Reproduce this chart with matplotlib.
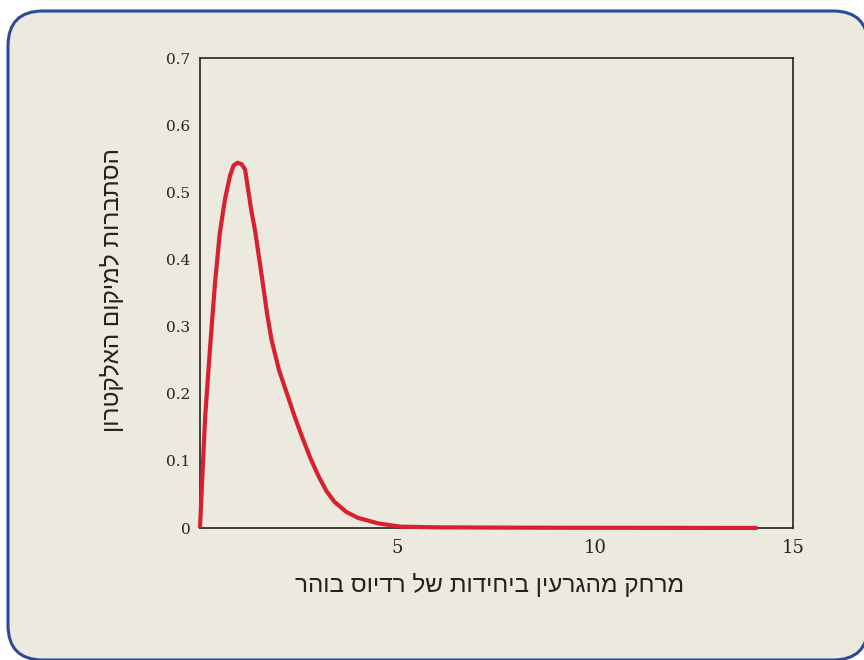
import matplotlib.pyplot as plt
from matplotlib.patches import FancyBboxPatch

# distance from nucleus (Bohr radii) and probability
r = [0, 0.05, 0.13, 0.25, 0.38, 0.5, 0.63, 0.76, 0.85, 0.95, 1.05, 1.14, 1.22,
     1.3, 1.39, 1.5, 1.6, 1.7, 1.81, 2.0, 2.2, 2.4, 2.6, 2.8, 3.0, 3.2, 3.4,
     3.7, 4.0, 4.5, 5.06, 6, 8, 10, 12, 14.1]
p = [0, 0.065, 0.165, 0.265, 0.365, 0.439, 0.489, 0.525, 0.54, 0.544, 0.542,
     0.534, 0.503, 0.472, 0.444, 0.40, 0.36, 0.318, 0.28, 0.235, 0.2, 0.165,
     0.133, 0.103, 0.077, 0.055, 0.039, 0.024, 0.015, 0.007, 0.002, 0.001,
     0.0005, 0.0003, 0.0002, 0.0001]

xticks = [5, 10, 15]
yticks = [0, 0.1, 0.2, 0.3, 0.4, 0.5, 0.6, 0.7]
ytick_labels = ["0", "0.1", "0.2", "0.3", "0.4", "0.5", "0.6", "0.7"]

xlabel = "מרחק מהגרעין ביחידות של רדיוס בוהר"
ylabel = "הסתברות למיקום האלקטרון"

hebrew_font = ["Liberation Sans", "DejaVu Sans"]
num_font = ["DejaVu Serif"]

fig = plt.figure(figsize=(8.64, 6.6), dpi=100)
fig.patch.set_facecolor("white")

# rounded panel behind everything (pixel coords)
panel = FancyBboxPatch((8, 0), 860, 649, boxstyle="round,pad=0,rounding_size=35",
                       transform=None, facecolor="#ECEADF", edgecolor="#2B4A9B",
                       linewidth=2.2, zorder=-5)
fig.patches.append(panel)

ax = fig.add_axes([200 / 864, 132 / 660, 593 / 864, 470 / 660])
ax.set_zorder(2)
ax.set_facecolor("none")

ax.plot(r, p, color="#D9202E", linewidth=3, solid_joinstyle="round",
        solid_capstyle="butt", clip_on=False, zorder=3)

ax.set_xlim(0, 15)
ax.set_ylim(0, 0.7)
ax.set_xticks(xticks)
ax.set_xticklabels([str(v) for v in xticks], fontsize=13, family=num_font)
ax.set_yticks(yticks)
ax.set_yticklabels(ytick_labels, fontsize=11, family=num_font)
ax.tick_params(length=0, colors="#222222")
ax.tick_params(axis="x", pad=8)
ax.tick_params(axis="y", pad=7)
for s in ax.spines.values():
    s.set_linewidth(1.2)
    s.set_color("#222222")

# matplotlib lays text out left to right, so reverse the Hebrew for display
fig.text(490 / 864, 1 - 585 / 660, xlabel[::-1], ha="center", va="center",
         fontsize=17.5, family=hebrew_font, color="#222222", zorder=3)
fig.text(112 / 864, 1 - 290 / 660, ylabel[::-1], ha="center", va="center",
         rotation=90, fontsize=17.5, family=hebrew_font, color="#222222", zorder=3)

fig.savefig("out.png", dpi=100)
